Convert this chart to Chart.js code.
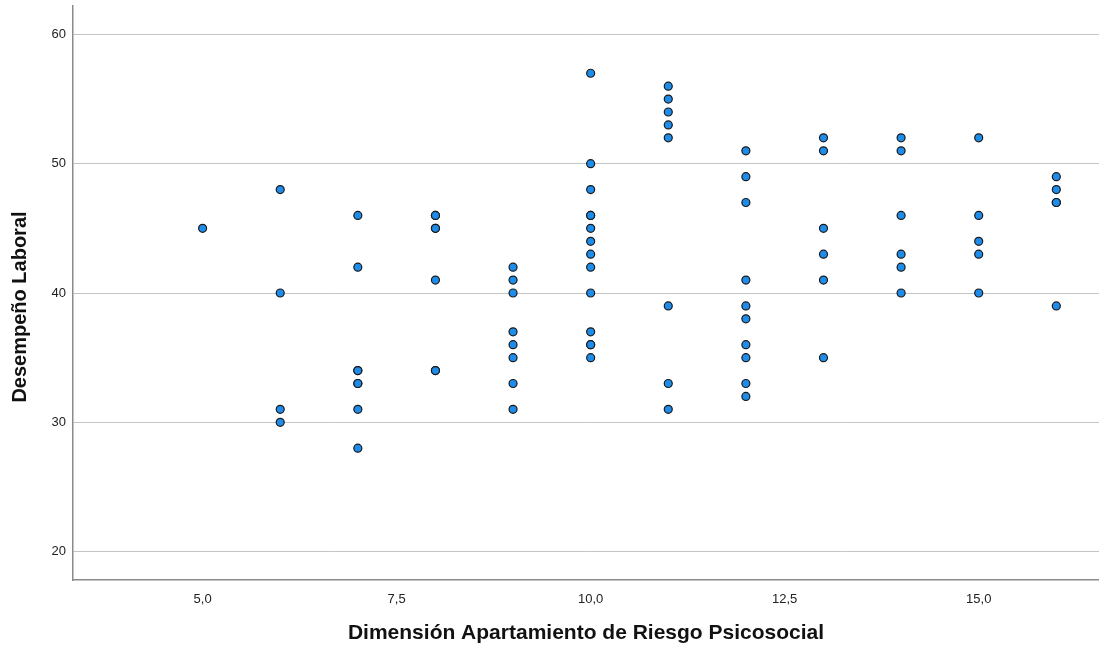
<!DOCTYPE html>
<html lang="es">
<head>
    <meta charset="UTF-8">
    <title>Desempeño Laboral vs Dimensión Apartamiento de Riesgo Psicosocial</title>
    <script src="https://cdn.jsdelivr.net/npm/chart.js"></script>
    <style>
        html, body { margin: 0; padding: 0; background: #fff; }
        #wrap { width: 1099px; height: 650px; }
    </style>
</head>
<body>
    <div id="wrap">
        <canvas id="scatterChart"></canvas>
    </div>

    <script>
    // Niveles de la dimensión (eje X) y puntajes de desempeño observados en cada nivel
    const nivelesRiesgo = [5, 6, 7, 8, 9, 10, 11, 12, 13, 14, 15, 16];
    const desempenoPorNivel = [
        [45],
        [48, 40, 31, 30],
        [46, 42, 34, 34, 33, 33, 31, 28],
        [46, 46, 45, 45, 41, 34, 34],
        [42, 41, 40, 37, 36, 35, 33, 31],
        [57, 50, 48, 46, 46, 45, 44, 43, 42, 40, 37, 36, 36, 35],
        [56, 55, 54, 53, 52, 39, 33, 31],
        [51, 49, 47, 41, 39, 38, 36, 35, 33, 32],
        [52, 51, 45, 43, 41, 35],
        [52, 51, 46, 43, 42, 40],
        [52, 46, 44, 43, 40],
        [49, 48, 47, 47, 39]
    ];

    const xTicks = [5, 7.5, 10, 12.5, 15];
    const yTicks = [20, 30, 40, 50, 60];

    // Pares (x, y) para Chart.js
    const puntos = [];
    nivelesRiesgo.forEach((nivel, i) => {
        desempenoPorNivel[i].forEach(v => puntos.push({ x: nivel, y: v }));
    });

    const fontFamily = "'Liberation Sans', Arial, sans-serif";

    // Título del eje Y dibujado a mano (SPSS lo centra un poco más abajo que el área)
    const tituloEjeY = {
        id: "tituloEjeY",
        afterDraw(chart) {
            const c = chart.ctx;
            const area = chart.chartArea;
            c.save();
            c.translate(20, (area.top + area.bottom) / 2 + 14);
            c.rotate(-Math.PI / 2);
            c.font = "bold 20px " + fontFamily;
            c.fillStyle = "#111";
            c.textAlign = "center";
            c.textBaseline = "middle";
            c.fillText("Desempeño Laboral", 0, 0);
            c.restore();
        }
    };

    const ctx = document.getElementById("scatterChart").getContext("2d");
    new Chart(ctx, {
        type: "scatter",
        data: {
            datasets: [{
                data: puntos,
                backgroundColor: "#1e8ce8",
                borderColor: "#1a1a1a",
                borderWidth: 1.2,
                pointRadius: 4,
                pointHoverRadius: 4
            }]
        },
        options: {
            responsive: true,
            maintainAspectRatio: false,
            animation: false,
            layout: { padding: 0, autoPadding: false },
            plugins: {
                legend: { display: false },
                tooltip: { enabled: false }
            },
            scales: {
                x: {
                    type: "linear",
                    min: 3.33,
                    max: 16.55,
                    afterBuildTicks: scale => { scale.ticks = xTicks.map(v => ({ value: v })); },
                    afterFit: scale => {
                        scale.height = 70;
                        scale.paddingLeft = 0;
                        scale.paddingRight = 0;
                    },
                    grid: { display: false, drawTicks: false },
                    border: { display: true, color: "#8a8a8a", width: 1.5 },
                    ticks: {
                        padding: 12,
                        color: "#222",
                        font: { family: fontFamily, size: 13 },
                        callback: v => v.toFixed(1).replace(".", ",")
                    },
                    title: {
                        display: true,
                        text: "Dimensión Apartamiento de Riesgo Psicosocial",
                        color: "#111",
                        font: { family: fontFamily, size: 21, weight: "bold" },
                        padding: { top: 4, bottom: 4 }
                    }
                },
                y: {
                    type: "linear",
                    min: 17.8,
                    max: 62.2,
                    afterBuildTicks: scale => { scale.ticks = yTicks.map(v => ({ value: v })); },
                    afterFit: scale => {
                        scale.width = 73;
                        scale.paddingTop = 6;
                        scale.paddingBottom = 0;
                    },
                    grid: { color: "#c4c4c4", lineWidth: 1, drawTicks: false },
                    border: { display: true, color: "#8a8a8a", width: 1.5 },
                    ticks: {
                        padding: 7,
                        color: "#222",
                        font: { family: fontFamily, size: 13 },
                        callback: v => String(v)
                    },
                    title: { display: false }
                }
            }
        },
        plugins: [tituloEjeY]
    });
    </script>
</body>
</html>
